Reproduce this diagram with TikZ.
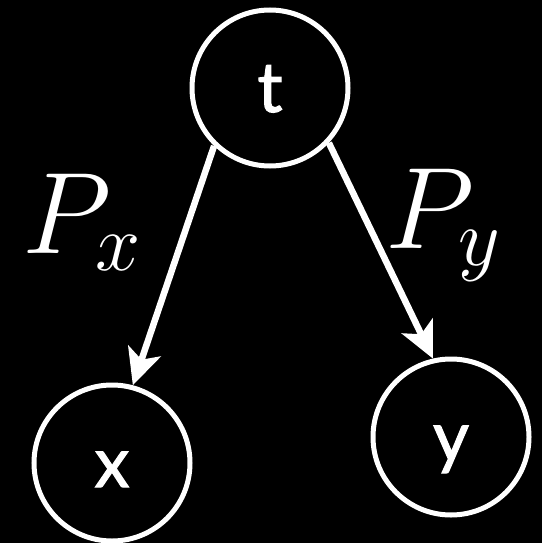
\RequirePackage{fix-cm}
\documentclass[tikz,border=0pt]{standalone}
\usepackage{fontspec}
\newfontfamily\lato[FakeBold=1.5]{Lato}
\usetikzlibrary{arrows.meta}
\begin{document}
\begin{tikzpicture}[x=1pt,y=1pt,
  vnode/.style={circle,draw=white,line width=5pt,minimum size=156pt,inner sep=0pt,
    text=white,font=\lato\fontsize{70}{76}\selectfont,text height=48pt,text depth=0pt},
  arr/.style={draw=white,line width=6.5pt,-{Stealth[length=36pt,width=34pt,inset=9pt]}},
  lab/.style={text=white,inner sep=0pt,anchor=base west,font=\fontsize{116}{130}\selectfont}]
\fill[black] (0,0) rectangle (542,-543);
\useasboundingbox (0,0) rectangle (542,-543);
\node[vnode] (t) at (270,-88) {t};
\node[vnode] (x) at (112,-463) {x};
\node[vnode] (y) at (451,-437) {y};
\draw[arr] (t.226) -- (x.75);
\draw[arr] (t.317) -- (y.103);
\node[lab] (px) at (22,-253) {$P_x$};
\node[lab] (py) at (385,-248) {$P_y$};
\end{tikzpicture}
\end{document}
